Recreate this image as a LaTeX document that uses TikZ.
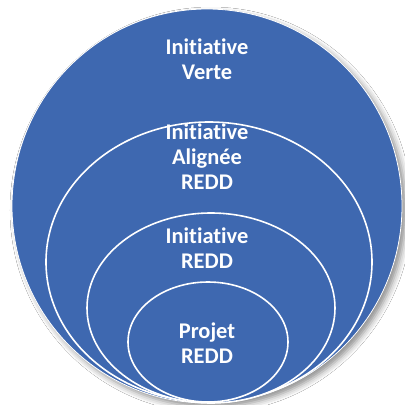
\documentclass[tikz,border=0pt]{standalone}
\usepackage{fontspec}
\setmainfont{Carlito}[Ligatures=NoCommon]
\usetikzlibrary{shapes.geometric,shadows.blur}
\definecolor{ringblue}{RGB}{62,104,176}
\tikzset{
  ring/.style={ellipse, draw=white, line width=1.6pt, fill=ringblue, inner sep=0pt},
  lbl/.style={text=white, font=\fontsize{22.5}{25}\selectfont\bfseries, align=center, inner sep=0pt}
}
\begin{document}
\begin{tikzpicture}[x=1bp,y=-1bp]
\useasboundingbox[fill=white] (0,0) rectangle (405,405);
\node[ring, line width=0.8pt, minimum width=390bp, minimum height=394bp,
  blur shadow={shadow xshift=4bp, shadow yshift=-4bp, shadow blur radius=6bp, shadow opacity=45}] (outer) at (207,206) {};
\node[ring, minimum width=326bp, minimum height=280bp] (align) at (209,262) {};
\node[ring, minimum width=248bp, minimum height=190bp] (redd) at (211,308) {};
\node[ring, minimum width=160bp, minimum height=120bp] (proj) at (208,342) {};
\node[lbl] (t1) at (207,59) {Initiative\\Verte};
\node[lbl] (t2) at (207,157) {Initiative\\Alignée\\REDD};
\node[lbl] (t3) at (207,248) {Initiative\\REDD};
\node[lbl] (t4) at (207,343) {Projet\\REDD};
\end{tikzpicture}
\end{document}
